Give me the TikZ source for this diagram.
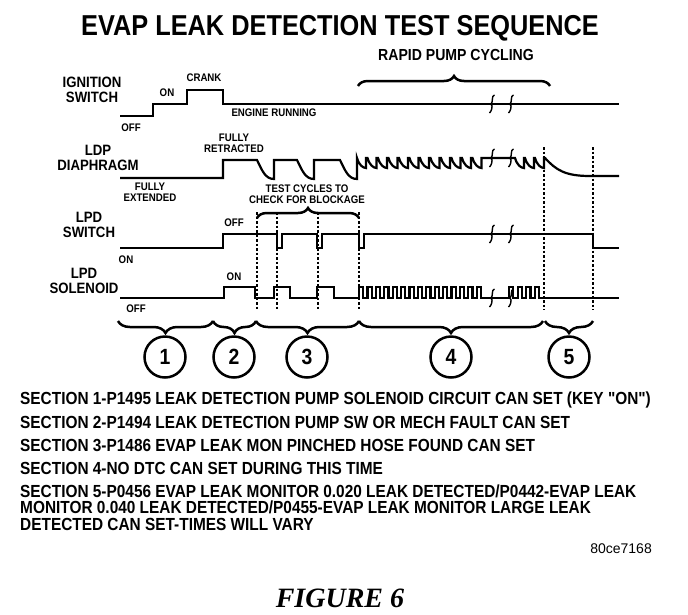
\documentclass[tikz,border=0pt]{standalone}
\usepackage{fontspec}
\setmainfont{Liberation Sans}
\newfontfamily\evapfont[FakeStretch=0.88]{Liberation Sans}
\newfontfamily\figfont{Liberation Serif}
\usetikzlibrary{positioning, decorations.pathreplacing}

\tikzset{
  brkmark/.pic={\draw[line width=1.4pt] (2.5,-9) .. controls (-1,-8) and (1.5,-2) .. (-1,0) .. controls (1.5,2) and (-1,8) .. (-2.5,9);}
}

\begin{document}
\begin{tikzpicture}[x=1pt, y=-1pt,
    wave/.style={line width=2.2pt},
    guide/.style={line width=1.3pt, dash pattern=on 2.5pt off 2pt},
    lbl/.style={font=\evapfont\bfseries\fontsize{15}{15.5}\selectfont, align=center, inner sep=0pt},
    tiny/.style={font=\evapfont\bfseries\fontsize{11}{11}\selectfont, align=center, inner sep=0pt},
    sect/.style={font=\evapfont\bfseries\fontsize{17.5}{16.5}\selectfont, align=left, inner sep=0pt, anchor=north west, text height=12.5pt, text depth=3.5pt},
    upbrace/.style={decorate, decoration={brace, amplitude=10pt}, line width=2.5pt},
    downbrace/.style={decorate, decoration={brace, mirror, amplitude=12pt}, line width=2.5pt},
    sectnum/.style={circle, draw, line width=2.5pt, minimum size=41pt, inner sep=0pt, font=\evapfont\bfseries\fontsize{22}{22}\selectfont}
  ]
  \useasboundingbox (0,0) rectangle (688,614);

  % title
  \node (title) [font=\evapfont\bfseries\fontsize{28.8}{29}\selectfont] at (340,28) {EVAP LEAK DETECTION TEST SEQUENCE};
  \node (rapid) [font=\evapfont\bfseries\fontsize{16}{16}\selectfont, anchor=west, inner sep=0pt] at (378,55) {RAPID PUMP CYCLING};
  \draw[upbrace] (358,86) -- (550,86);

  % signal names
  \node (ign) [lbl] at (92,90) {IGNITION\\SWITCH};
  \node (ldp) [lbl] at (98,158) {LDP\\DIAPHRAGM};
  \node (lpdsw) [lbl] at (89,225) {LPD\\SWITCH};
  \node (lpdsol) [lbl] at (84,281) {LPD\\SOLENOID};

  % ignition switch
  \draw[wave] (120,116) -- (153,116) -- (153,104) -- (187,104) -- (187,90) -- (223,90) -- (223,104) -- (619,104);
  \node (ignoff) [tiny] at (131,128) {OFF};
  \node (ignon) [tiny] at (167,93) {ON};
  \node (crank) [tiny] at (204,78) {CRANK};
  \node (running) [tiny] at (274,113) {ENGINE RUNNING};

  % ldp diaphragm
  \draw[wave] (120,178) -- (223,178) -- (223,160) -- (257,160)
    .. controls (262,170) and (265,179) .. (274,179) -- (274,160) -- (297,160)
    .. controls (302,170) and (305,179) .. (314,179) -- (314,160) -- (340,160)
    .. controls (345,170) and (348,179) .. (357,179) -- (357,158)
    \foreach \i in {1,...,12} { .. controls +(2,7) and +(-3,0) .. ++(9,10) -- ++(0,-10) -- ++(1.5,0) }
    -- (515,158)
    \foreach \i in {1,...,3} { .. controls +(2,7) and +(-3,0) .. ++(9,10) -- ++(0,-10) -- ++(1,0) }
    .. controls (556,170) and (565,176) .. (590,176) -- (619,176);
  \node (retracted) [tiny] at (234,143) {FULLY\\RETRACTED};
  \node (extended) [tiny] at (150,192) {FULLY\\EXTENDED};

  % lpd switch
  \draw[wave] (120,248) -- (223,248) -- (223,234)
    \foreach \d in {277,317,359} { -- (\d,234) -- (\d,248) -- (\d+5,248) -- (\d+5,234) }
    -- (593,234) -- (593,248) -- (619,248);
  \node (swoff) [tiny] at (234,223) {OFF};
  \node (swon) [tiny] at (126,260) {ON};
  \node (testcyc) [tiny] at (307,194) {TEST CYCLES TO\\CHECK FOR BLOCKAGE};
  \draw[upbrace] (257,218) -- (359,218);

  % lpd solenoid
  \draw[wave] (120,298) -- (224,298) -- (224,287) -- (255,287) -- (255,298)
    -- (274,298) -- (274,287) -- (290,287) -- (290,298)
    -- (317,298) -- (317,287) -- (334,287) -- (334,298) -- (359,298)
    \foreach \i in {1,...,15} { -- ++(0,-11) -- ++(4.2,0) -- ++(0,11) -- ++(4.2,0) }
    -- (509,298)
    \foreach \i in {1,...,4} { -- ++(0,-11) -- ++(4.3,0) -- ++(0,11) -- ++(4.3,0) }
    -- (619,298);
  \node (solon) [tiny] at (234,277) {ON};
  \node (soloff) [tiny] at (136,309) {OFF};

  % dotted guides
  \foreach \x in {257,277,318,359} \draw[guide] (\x,212) -- (\x,310);
  \foreach \x in {544,593} \draw[guide] (\x,147) -- (\x,310);

  % break marks
  \foreach \y in {104,158,234,298} {
    \pic at (492,\y) {brkmark};
    \pic at (511,\y) {brkmark};
  }

  % sections
  \draw[downbrace] (118,321) -- (213,321);
  \draw[downbrace] (213,321) -- (256,321);
  \draw[downbrace] (256,321) -- (359,321);
  \draw[downbrace] (359,321) -- (543,321);
  \draw[downbrace] (545,321) -- (593,321);
  \node (num1) [sectnum] at (165,357) {1};
  \node (num2) [sectnum] at (234,357) {2};
  \node (num3) [sectnum] at (307,357) {3};
  \node (num4) [sectnum] at (451,357) {4};
  \node (num5) [sectnum] at (569,357) {5};

  \node (sec1) [sect] at (20,392) {SECTION 1-P1495 LEAK DETECTION PUMP SOLENOID CIRCUIT CAN SET (KEY "ON")};
  \node (sec2) [sect] at (20,415.5) {SECTION 2-P1494 LEAK DETECTION PUMP SW OR MECH FAULT CAN SET};
  \node (sec3) [sect] at (20,438.5) {SECTION 3-P1486 EVAP LEAK MON PINCHED HOSE FOUND CAN SET};
  \node (sec4) [sect] at (20,461.5) {SECTION 4-NO DTC CAN SET DURING THIS TIME};
  \node (sec5) [sect, text height=45.5pt] at (20,484.5) {SECTION 5-P0456 EVAP LEAK MONITOR 0.020 LEAK DETECTED/P0442-EVAP LEAK\\MONITOR 0.040 LEAK DETECTED/P0455-EVAP LEAK MONITOR LARGE LEAK\\DETECTED CAN SET-TIMES WILL VARY};

  \node (code) [font=\fontsize{14}{14}\selectfont, anchor=east, inner sep=0pt] at (652,549) {80ce7168};
  \node (figure) [font=\figfont\bfseries\itshape\fontsize{28}{28}\selectfont] at (340,598) {FIGURE 6};
\end{tikzpicture}
\end{document}
